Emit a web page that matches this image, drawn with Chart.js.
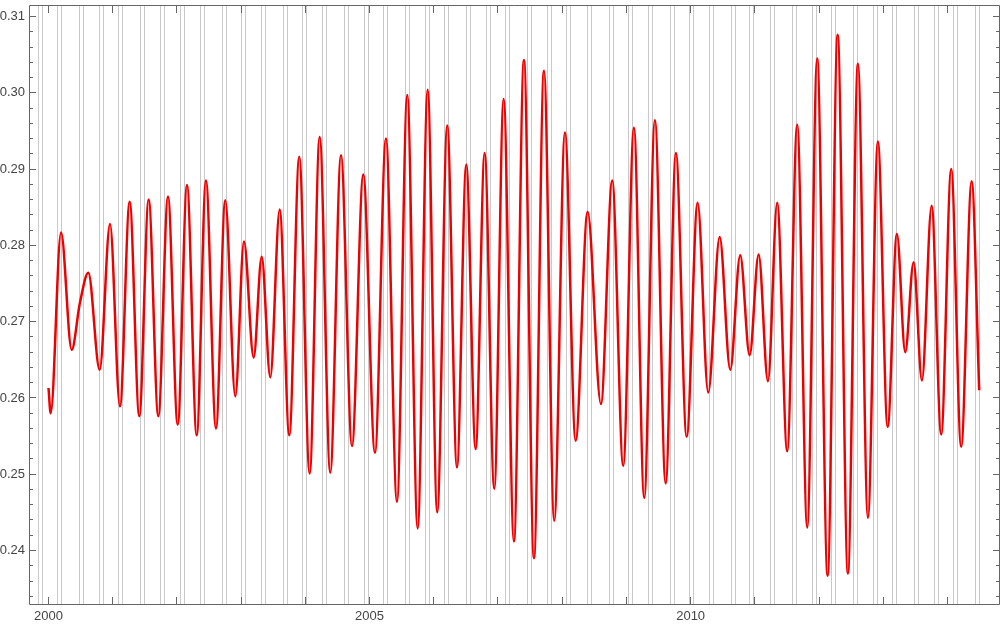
<!DOCTYPE html>
<html>
<head>
<meta charset="utf-8">
<script src="https://cdn.jsdelivr.net/npm/chart.js@4.4.1/dist/chart.umd.min.js"></script>
<style>
  html, body { margin: 0; padding: 0; background: #fff; }
  #wrap { width: 1000px; height: 625px; }
</style>
</head>
<body>
<div id="wrap"><canvas id="chart" width="1000" height="625"></canvas></div>
<script>
// time in decimal years (peaks and troughs)
const years = [
  2000.000, 2000.034, 2000.195, 2000.361, 2000.490, 2000.620, 2000.797, 2000.958,
  2001.113, 2001.264, 2001.414, 2001.560, 2001.710, 2001.861, 2002.012, 2002.157,
  2002.308, 2002.452, 2002.608, 2002.753, 2002.909, 2003.044, 2003.195, 2003.320,
  2003.454, 2003.600, 2003.750, 2003.905, 2004.067, 2004.223, 2004.388, 2004.555,
  2004.726, 2004.902, 2005.084, 2005.255, 2005.427, 2005.587, 2005.749, 2005.905,
  2006.054, 2006.210, 2006.361, 2006.506, 2006.652, 2006.792, 2006.942, 2007.088,
  2007.248, 2007.404, 2007.560, 2007.716, 2007.876, 2008.043, 2008.209, 2008.396,
  2008.603, 2008.779, 2008.950, 2009.117, 2009.277, 2009.444, 2009.611, 2009.771,
  2009.938, 2010.109, 2010.274, 2010.452, 2010.617, 2010.772, 2010.919, 2011.059,
  2011.204, 2011.348, 2011.504, 2011.660, 2011.816, 2011.971, 2012.133, 2012.289,
  2012.449, 2012.605, 2012.761, 2012.916, 2013.068, 2013.212, 2013.342, 2013.472,
  2013.602, 2013.753, 2013.902, 2014.058, 2014.213, 2014.376, 2014.494
];
const values = [
  0.2613, 0.2580, 0.2817, 0.2663, 0.2725, 0.2764, 0.2637, 0.2828,
  0.2589, 0.2857, 0.2576, 0.2860, 0.2576, 0.2864, 0.2565, 0.2879,
  0.2551, 0.2885, 0.2560, 0.2859, 0.2602, 0.2805, 0.2653, 0.2785,
  0.2627, 0.2847, 0.2551, 0.2916, 0.2501, 0.2942, 0.2502, 0.2918,
  0.2537, 0.2893, 0.2528, 0.2940, 0.2464, 0.2997, 0.2429, 0.3004,
  0.2450, 0.2957, 0.2509, 0.2906, 0.2533, 0.2921, 0.2481, 0.2992,
  0.2412, 0.3043, 0.2390, 0.3029, 0.2439, 0.2948, 0.2544, 0.2844,
  0.2592, 0.2885, 0.2511, 0.2954, 0.2469, 0.2964, 0.2488, 0.2921,
  0.2549, 0.2856, 0.2607, 0.2811, 0.2637, 0.2787, 0.2656, 0.2788,
  0.2622, 0.2856, 0.2530, 0.2958, 0.2430, 0.3045, 0.2367, 0.3076,
  0.2370, 0.3038, 0.2443, 0.2936, 0.2562, 0.2815, 0.2660, 0.2778,
  0.2623, 0.2852, 0.2552, 0.2900, 0.2536, 0.2884, 0.2610
];

// vertical grid lines come in pairs
const gridLead = [
  1999.841, 2000.143, 2000.480, 2000.791, 2001.090, 2001.429, 2001.741, 2002.052,
  2002.364, 2002.706, 2003.002, 2003.314, 2003.656, 2003.958, 2004.270, 2004.606,
  2004.917, 2005.213, 2005.556, 2005.867, 2006.163, 2006.506, 2006.817, 2007.113,
  2007.456, 2007.767, 2008.069, 2008.396, 2008.732, 2009.035, 2009.346, 2009.689,
  2009.989, 2010.296, 2010.638, 2010.923, 2011.250, 2011.582, 2011.900, 2012.196,
  2012.532, 2012.850, 2013.145, 2013.482, 2013.793, 2014.095, 2014.432
];
const gridTrail = [
  1999.903, 2000.205, 2000.542, 2000.853, 2001.152, 2001.491, 2001.803, 2002.114,
  2002.426, 2002.768, 2003.064, 2003.376, 2003.718, 2004.020, 2004.332, 2004.668,
  2004.979, 2005.275, 2005.618, 2005.929, 2006.225, 2006.568, 2006.879, 2007.175,
  2007.518, 2007.829, 2008.131, 2008.458, 2008.794, 2009.097, 2009.408, 2009.751,
  2010.051, 2010.358, 2010.700, 2010.985, 2011.312, 2011.644, 2011.962, 2012.258,
  2012.594, 2012.912, 2013.207, 2013.544, 2013.855, 2014.157, 2014.494
];

const yearTicks = [2000, 2001, 2002, 2003, 2004, 2005, 2006, 2007, 2008, 2009, 2010, 2011, 2012, 2013, 2014];
const yearLabels = [2000, 2005, 2010];
const yMajor = [0.24, 0.25, 0.26, 0.27, 0.28, 0.29, 0.30, 0.31];

const X_MIN = 1999.6963, X_MAX = 2014.8177;
const Y_MIN = 0.232856, Y_MAX = 0.311507;

// minor y ticks every 0.002
const yTicks = [];
for (let i = 117; i <= 155; i++) yTicks.push(i / 500);

const isMajorY = v => yMajor.some(m => Math.abs(m - v) < 1e-9);
const labelFont = { family: "'Liberation Sans', Arial, sans-serif", size: 13 };

const noPad = s => {
  s.paddingTop = 0;
  s.paddingBottom = 0;
  s.paddingLeft = 0;
  s.paddingRight = 0;
};

// Mathematica style frame with inward ticks on all four sides
const frameTicks = {
  id: "frameTicks",
  afterDraw(chart) {
    const { ctx, chartArea: a } = chart;
    const xs = chart.scales.x;
    const ys = chart.scales.y;
    ctx.save();
    ctx.strokeStyle = "#666";
    ctx.lineWidth = 1;
    ctx.beginPath();
    ctx.rect(a.left + 0.5, a.top + 0.5, a.right - a.left - 1, a.bottom - a.top - 1);
    yearTicks.forEach(v => {
      const px = Math.floor(xs.getPixelForValue(v)) + 0.5;
      ctx.moveTo(px, a.bottom);
      ctx.lineTo(px, a.bottom - 8);
      ctx.moveTo(px, a.top);
      ctx.lineTo(px, a.top + 8);
    });
    yTicks.forEach(v => {
      const py = Math.floor(ys.getPixelForValue(v)) + 0.5;
      const len = isMajorY(v) ? 7 : 4;
      ctx.moveTo(a.left, py);
      ctx.lineTo(a.left + len, py);
      ctx.moveTo(a.right, py);
      ctx.lineTo(a.right - len, py);
    });
    ctx.stroke();
    ctx.restore();
  }
};

new Chart(document.getElementById("chart"), {
  type: "line",
  data: {
    datasets: [
      {
        data: years.map((t, i) => ({ x: t, y: values[i] })),
        borderColor: "rgb(238, 0, 0)",
        borderWidth: 2.5,
        pointRadius: 0,
        cubicInterpolationMode: "monotone",
        fill: false,
      },
    ],
  },
  options: {
    responsive: false,
    animation: false,
    devicePixelRatio: 1,
    layout: { padding: { top: 5, right: 0, bottom: 0, left: 0 } },
    plugins: {
      legend: { display: false },
      tooltip: { enabled: false },
    },
    scales: {
      x: {
        type: "linear",
        position: "bottom",
        min: X_MIN,
        max: X_MAX,
        afterBuildTicks: s => { s.ticks = yearTicks.map(v => ({ value: v })); },
        afterFit: s => { s.height = 20; noPad(s); },
        grid: { display: false, drawTicks: false },
        border: { display: false },
        ticks: {
          autoSkip: false,
          maxRotation: 0,
          padding: 4,
          color: "#444",
          font: labelFont,
          callback: v => (yearLabels.includes(v) ? String(v) : ""),
        },
      },
      xg: {
        type: "linear",
        position: "bottom",
        min: X_MIN,
        max: X_MAX,
        afterBuildTicks: s => {
          s.ticks = gridLead.concat(gridTrail).map(v => ({ value: v }));
        },
        afterFit: s => { s.height = 0; noPad(s); },
        grid: { color: "#c9c9c9", lineWidth: 1, drawTicks: false },
        border: { display: false },
        ticks: { display: false },
      },
      y: {
        type: "linear",
        min: Y_MIN,
        max: Y_MAX,
        afterBuildTicks: s => { s.ticks = yTicks.map(v => ({ value: v })); },
        afterFit: s => { s.width = 29; noPad(s); },
        grid: { display: false, drawTicks: false },
        border: { display: false },
        ticks: {
          autoSkip: false,
          padding: 4,
          color: "#444",
          font: labelFont,
          callback: v => (isMajorY(v) ? v.toFixed(2) : ""),
        },
      },
    },
  },
  plugins: [frameTicks],
});
</script>
</body>
</html>
